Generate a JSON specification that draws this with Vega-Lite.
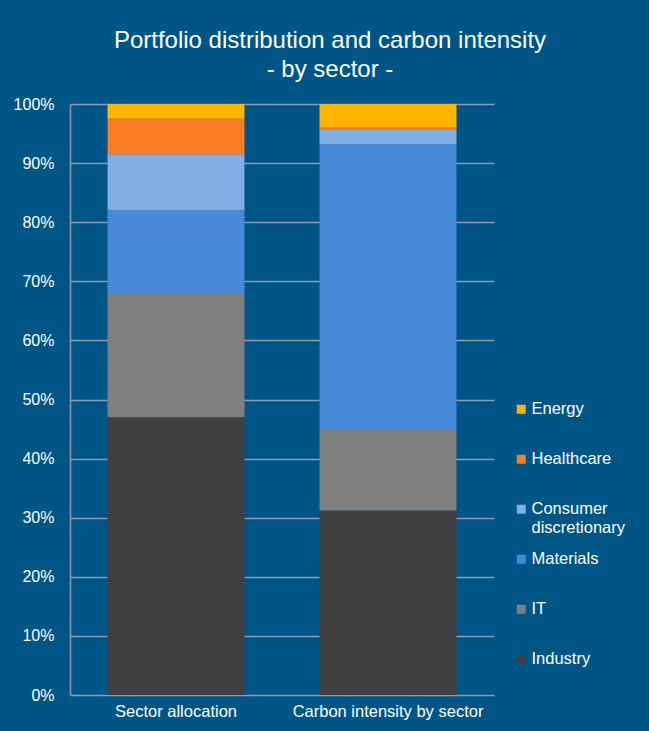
{
  "$schema": "https://vega.github.io/schema/vega-lite/v6.json",
  "width": 424,
  "height": 591,
  "autosize": {"type": "none"},
  "padding": {"left": 70, "top": 104, "right": 155, "bottom": 36},
  "background": "#005587",
  "title": {
    "text": ["Portfolio distribution and carbon intensity", "- by sector -"],
    "color": "white",
    "font": "Liberation Sans",
    "fontSize": 24,
    "fontWeight": "normal",
    "lineHeight": 29,
    "anchor": "middle",
    "frame": "group",
    "dx": 48,
    "offset": 14
  },
  "data": {
    "values": [
      {"series": "Sector allocation", "sector": "Industry", "rank": 1, "value": 47},
      {"series": "Sector allocation", "sector": "IT", "rank": 2, "value": 21},
      {"series": "Sector allocation", "sector": "Materials", "rank": 3, "value": 14},
      {"series": "Sector allocation", "sector": "Consumer discretionary", "rank": 4, "value": 9.5},
      {"series": "Sector allocation", "sector": "Healthcare", "rank": 5, "value": 6},
      {"series": "Sector allocation", "sector": "Energy", "rank": 6, "value": 2.5},
      {"series": "Carbon intensity by sector", "sector": "Industry", "rank": 1, "value": 31.2},
      {"series": "Carbon intensity by sector", "sector": "IT", "rank": 2, "value": 13.8},
      {"series": "Carbon intensity by sector", "sector": "Materials", "rank": 3, "value": 48.2},
      {"series": "Carbon intensity by sector", "sector": "Consumer discretionary", "rank": 4, "value": 2.4},
      {"series": "Carbon intensity by sector", "sector": "Healthcare", "rank": 5, "value": 0.4},
      {"series": "Carbon intensity by sector", "sector": "Energy", "rank": 6, "value": 4.0}
    ]
  },
  "mark": {"type": "bar"},
  "encoding": {
    "x": {
      "field": "series",
      "type": "nominal",
      "sort": ["Sector allocation", "Carbon intensity by sector"],
      "scale": {"paddingInner": 0.354, "paddingOuter": 0.177},
      "axis": {
        "title": null,
        "labelAngle": 0,
        "labelColor": "white",
        "labelFont": "Liberation Sans",
        "labelFontSize": 16.5,
        "labelPadding": 8,
        "labelLimit": 400,
        "ticks": false,
        "domain": false,
        "grid": false
      }
    },
    "y": {
      "field": "value",
      "type": "quantitative",
      "stack": "normalize",
      "scale": {"domain": [0, 1], "nice": false},
      "axis": {
        "title": null,
        "format": ".0%",
        "values": [0, 0.1, 0.2, 0.3, 0.4, 0.5, 0.6, 0.7, 0.8, 0.9, 1],
        "labelColor": "white",
        "labelFont": "Liberation Sans",
        "labelFontSize": 16,
        "labelPadding": 16,
        "ticks": false,
        "domain": true,
        "domainColor": "#8C9DB0",
        "domainWidth": 1.5,
        "grid": true,
        "gridColor": "#8C9DB0",
        "gridWidth": 1.5,
        "gridOpacity": 1
      }
    },
    "color": {
      "field": "sector",
      "type": "nominal",
      "scale": {
        "domain": ["Energy", "Healthcare", "Consumer discretionary", "Materials", "IT", "Industry"],
        "range": ["#FFB400", "#FD7B22", "#80AEE5", "#4589D8", "#7F7F7F", "#404040"]
      },
      "legend": {
        "title": null,
        "orient": "none",
        "legendX": 443,
        "legendY": 297,
        "padding": 0,
        "symbolType": "square",
        "symbolSize": 81,
        "symbolStrokeWidth": 0,
        "labelColor": "white",
        "labelFont": "Liberation Sans",
        "labelFontSize": 16.5,
        "labelOffset": 2,
        "labelLimit": 200,
        "rowPadding": 14,
        "gridAlign": "all",
        "labelExpr": "datum.label == 'Consumer discretionary' ? ['Consumer', 'discretionary'] : datum.label"
      }
    },
    "order": {"field": "rank", "type": "quantitative", "sort": "ascending"}
  },
  "config": {
    "view": {"stroke": null},
    "axis": {"gridCap": "butt"}
  }
}
